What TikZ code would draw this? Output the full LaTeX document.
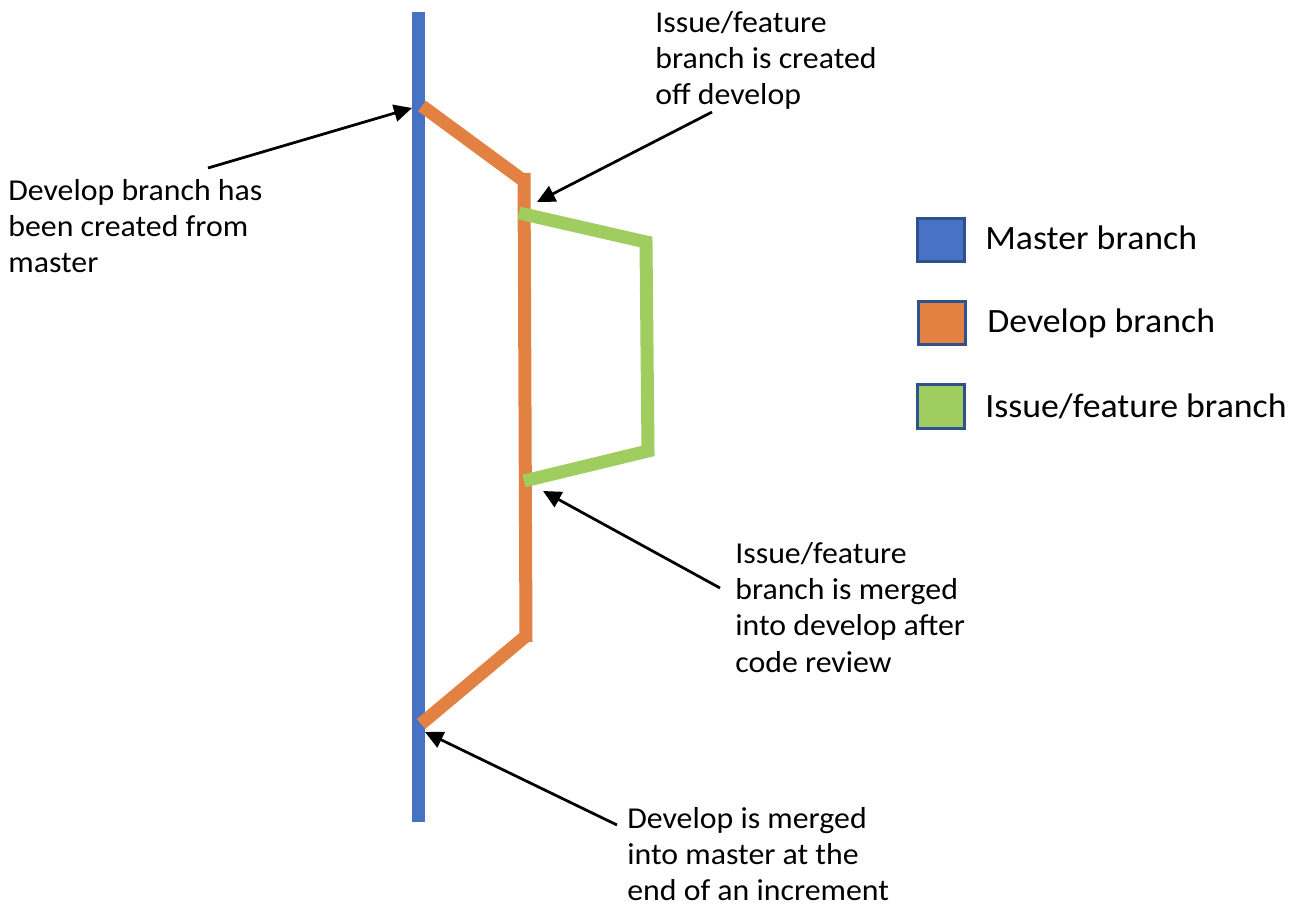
\documentclass[tikz,border=0pt]{standalone}
\usepackage{fontspec}
\setmainfont{Carlito}[FakeStretch=1.05]
\usetikzlibrary{arrows.meta,calc}
\definecolor{gitblue}{RGB}{72,114,196}
\definecolor{gitorange}{RGB}{226,129,66}
\definecolor{gitgreen}{RGB}{160,205,96}
\definecolor{keyborder}{RGB}{47,82,143}
\tikzset{
  branch/.style={line width=2.6mm, line cap=butt},
  callout/.style={-{Triangle[length=3.6mm,width=3.4mm]}, line width=0.55mm, black},
  note/.style={anchor=north west, align=left, inner sep=0pt, font=\fontsize{17.25}{20.6}\selectfont},
  keybox/.style={draw=keyborder, line width=0.6mm, minimum width=9.4mm, minimum height=8.7mm, inner sep=0pt},
  keytext/.style={anchor=base west, inner sep=0pt, font=\fontsize{19.4}{23}\selectfont},
}
\begin{document}
\begin{tikzpicture}[x=0.2mm,y=-0.2mm]
  \useasboundingbox (0,0) rectangle (1316,918);

  % Branch points
  \coordinate (masterTop) at (418,12);
  \coordinate (masterBot) at (418,822);
  \coordinate (devFork) at (422,106);
  \coordinate (devTop) at (524,173);
  \coordinate (devBend) at (524,181);
  \coordinate (devBot) at (526,642);
  \coordinate (devLow) at (526,636);
  \coordinate (devJoin) at (421,724);
  \coordinate (featFork) at (519,213);
  \coordinate (featTop) at (646,242);
  \coordinate (featBot) at (648,451);
  \coordinate (featJoin) at (524,481);

  % Branches
  \draw[branch, gitblue] (masterTop) -- (masterBot);
  \draw[branch, gitorange] (devFork) -- (devBend) (devTop) -- (devBot) (devLow) -- (devJoin);
  \draw[branch, gitgreen, line join=miter] (featFork) -- (featTop) -- (featBot) -- (featJoin);

  % Arrow tips
  \coordinate (tipFork) at (412,108);
  \coordinate (tipFeat) at (537,202);
  \coordinate (tipMerge) at (543,491);
  \coordinate (tipEnd) at (425,732);

  % Notes
  \node[note] (devnote) at (8,179) {Develop branch has\\been created from\\master};
  \node[note] (issuenote) at (655,11) {Issue/feature\\branch is created\\off develop};
  \node[note] (mergenote) at (735,542) {Issue/feature\\branch is merged\\into develop after\\code review};
  \node[note] (endnote) at (627,807) {Develop is merged\\into master at the\\end of an increment};

  \draw[callout] ($(devnote.north west)+(200,-11)$) -- (tipFork);
  \draw[callout] ($(issuenote.south west)+(57,2)$) -- (tipFeat);
  \draw[callout] ($(mergenote.north west)+(-15,46)$) -- (tipMerge);
  \draw[callout] ($(endnote.north west)+(-10,18)$) -- (tipEnd);

  % Legend
  \node[keybox, fill=gitblue] (keyMaster) at (940.5,240) {};
  \node[keybox, fill=gitorange] (keyDevelop) at (942,323) {};
  \node[keybox, fill=gitgreen] (keyIssue) at (941,406.5) {};
  \node[keytext] (lblMaster) at (985,250) {Master branch};
  \node[keytext] (lblDevelop) at (987,333) {Develop branch};
  \node[keytext] (lblIssue) at (985,418) {Issue/feature branch};
\end{tikzpicture}
\end{document}
